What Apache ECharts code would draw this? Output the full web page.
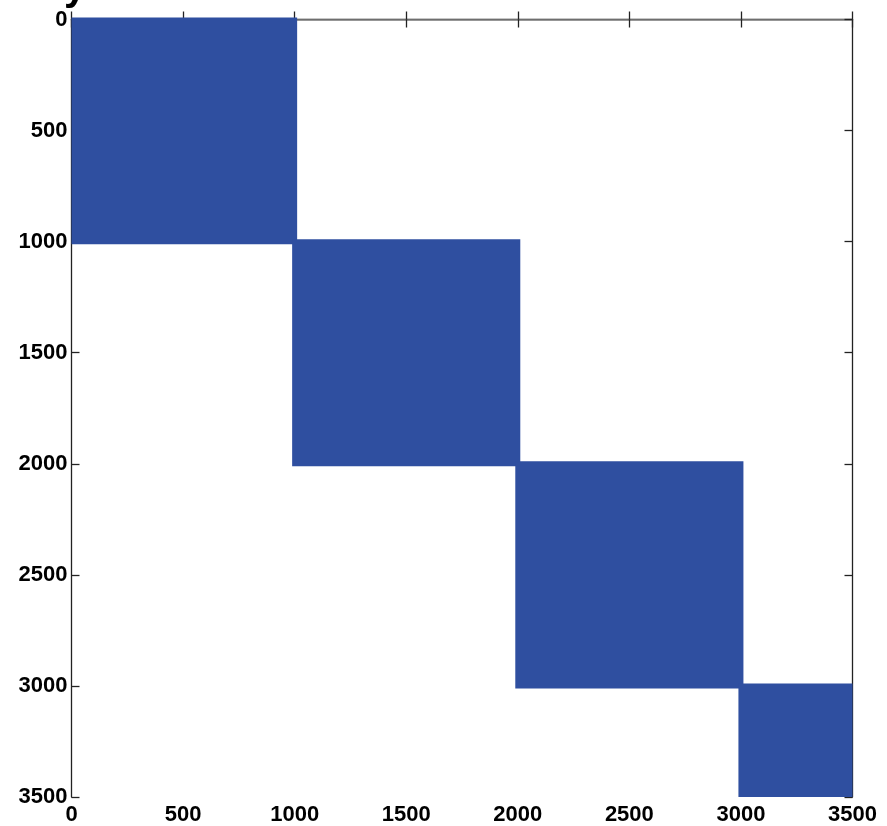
<!DOCTYPE html>
<html>
<head>
<meta charset="utf-8">
<script src="https://cdn.jsdelivr.net/npm/echarts@6/dist/echarts.min.js"></script>
<style>html,body{margin:0;padding:0;background:#fff;}#c{width:887px;height:826px;}</style>
</head>
<body>
<div id="c"></div>
<script>
// Block-diagonal nonzero pattern (spy plot): each block covers [start, end] in both row and column
const blockStart = [0, 1000, 2000, 3000];
const blockEnd   = [1000, 2000, 3000, 3500];
const tickValues = [0, 500, 1000, 1500, 2000, 2500, 3000, 3500];

const blocks = blockStart.map((s, i) => [s, blockEnd[i]]);

const chart = echarts.init(document.getElementById('c'), null, {renderer: 'canvas'});
const labelStyle = {fontFamily: '"Liberation Sans", Arial, sans-serif', fontWeight: 'bold', fontSize: 22, color: '#000'};
const lineStyle = {color: '#222', width: 1.3};

chart.setOption({
  animation: false,
  backgroundColor: '#fff',
  grid: {left: 71.5, right: 34.5, top: 19.5, bottom: 26.5, containLabel: false},
  xAxis: [
    {type: 'value', min: 0, max: 3500, interval: 500, position: 'bottom',
     axisLine: {show: true, lineStyle: lineStyle},
     axisTick: {show: true, inside: true, length: 8, lineStyle: lineStyle},
     axisLabel: Object.assign({margin: 7, formatter: v => tickValues.includes(v) ? String(v) : ''}, labelStyle),
     splitLine: {show: false}},
    {type: 'value', min: 0, max: 3500, interval: 500, position: 'top',
     axisLine: {show: true, onZero: false, lineStyle: {color: '#888', width: 1.5}},
     axisTick: {show: true, inside: true, length: 8, lineStyle: lineStyle},
     axisLabel: {show: false}, splitLine: {show: false}}
  ],
  yAxis: [
    {type: 'value', min: 0, max: 3500, interval: 500, inverse: true, position: 'left',
     axisLine: {show: true, onZero: false, lineStyle: lineStyle},
     axisTick: {show: true, inside: true, length: 8, lineStyle: lineStyle},
     axisLabel: Object.assign({margin: 4, formatter: v => tickValues.includes(v) ? String(v) : ''}, labelStyle),
     splitLine: {show: false}},
    {type: 'value', min: 0, max: 3500, interval: 500, inverse: true, position: 'right',
     axisLine: {show: true, onZero: false, lineStyle: lineStyle},
     axisTick: {show: true, inside: true, length: 8, lineStyle: lineStyle},
     axisLabel: {show: false}, splitLine: {show: false}}
  ],
  graphic: [{
    type: 'text', x: 64, y: -31, z: 100,
    style: {text: 'y', font: 'bold 40px "Liberation Sans", Arial, sans-serif', fill: '#000', textVerticalAlign: 'top'}
  }],
  series: [{
    type: 'custom',
    xAxisIndex: 0, yAxisIndex: 0,
    data: blocks,
    clip: false,
    renderItem: function (params, api) {
      const s = api.value(0), e = api.value(1);
      const p0 = api.coord([s, s]);
      const p1 = api.coord([e, e]);
      const cs = params.coordSys;
      const pad = 2.5;
      let x0 = Math.max(p0[0] - pad, cs.x);
      let x1 = Math.min(p1[0] + pad, cs.x + cs.width);
      let y0 = Math.max(p0[1] - pad, cs.y - 2);
      let y1 = Math.min(p1[1] + pad, cs.y + cs.height);
      return {type: 'rect', shape: {x: x0, y: y0, width: x1 - x0, height: y1 - y0},
              style: {fill: '#2f4fa0'}};
    },
    z: 1
  }]
});
</script>
</body>
</html>
